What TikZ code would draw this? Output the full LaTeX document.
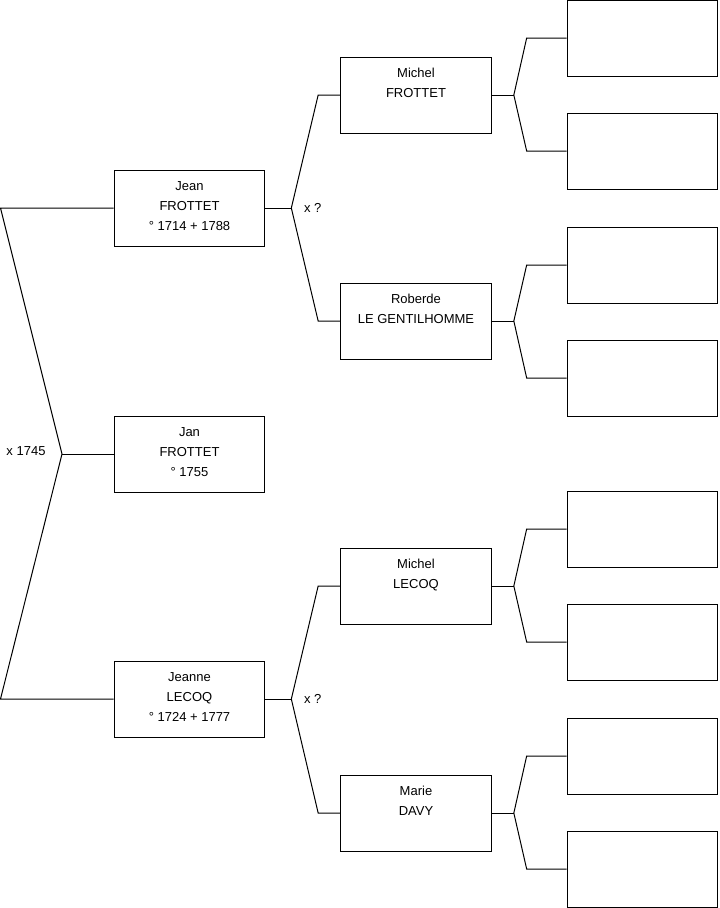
\documentclass[tikz,border=0pt]{standalone}
\usepackage{fontspec}
\setmainfont{Liberation Sans}
\usepackage{tikz}
\usetikzlibrary{calc,positioning}

\begin{document}
\begin{tikzpicture}[x=0.75pt, y=-0.75pt,
    person/.style={draw, line width=0.75pt, minimum width=113pt, minimum height=57pt,
        inner sep=0pt, align=center, font=\fontsize{9.75}{15}\selectfont,
        execute at end node={\rule[-3pt]{0pt}{0pt}}},
    link/.style={line width=0.75pt},
    note/.style={font=\fontsize{9.75}{11}\selectfont}]
    \useasboundingbox (0,0) rectangle (719,908);
    % child and parents
    \node[person] (jean) at (189.5,208) {Jean\\FROTTET\\° 1714 + 1788};
    \node[person] (jan) at (189.5,454) {Jan\\FROTTET\\° 1755};
    \node[person] (jeanne) at (189.5,699) {Jeanne\\LECOQ\\° 1724 + 1777};
    \coordinate (m0) at (62,454);
    \draw[link] (jean.west) -- (0.5,208) -- (m0) -- (0.5,699) -- (jeanne.west);
    \draw[link] (m0) -- (jan.west);
    \node[note] (wed0) at (26,451) {x 1745};
    % grandparents
    \node[person] (michelf) at (416,95) {Michel\\FROTTET\\\vphantom{1}};
    \node[person] (roberde) at (416,321) {Roberde\\LE GENTILHOMME\\\vphantom{1}};
    \node[person] (michell) at (416,586) {Michel\\LECOQ\\\vphantom{1}};
    \node[person] (marie) at (416,813) {Marie\\DAVY\\\vphantom{1}};
    \foreach \kid/\dad/\mum/\m in {jean/michelf/roberde/1, jeanne/michell/marie/2} {
        \draw[link] (\kid.east) -- ++(26,0) coordinate (m\m);
        \draw[link] (\dad.west) -- ++(-22,0) -- (m\m) -- ($(\mum.west)+(-22,0)$) -- (\mum.west);
        \node[note, right=6pt of m\m] (wed\m) {x ?};
    }
    % great-grandparents
    \foreach \who/\a/\b [count=\i] in {michelf/38/151, roberde/265/378, michell/529/642, marie/756/869} {
        \node[person] (g\i a) at (642.5,\a) {};
        \node[person] (g\i b) at (642.5,\b) {};
        \draw[link] (\who.east) -- ++(22,0) coordinate (p\i);
        \draw[link] (g\i a.west) -- ++(-40,0) -- (p\i) -- ($(g\i b.west)+(-40,0)$) -- (g\i b.west);
    }
\end{tikzpicture}
\end{document}
